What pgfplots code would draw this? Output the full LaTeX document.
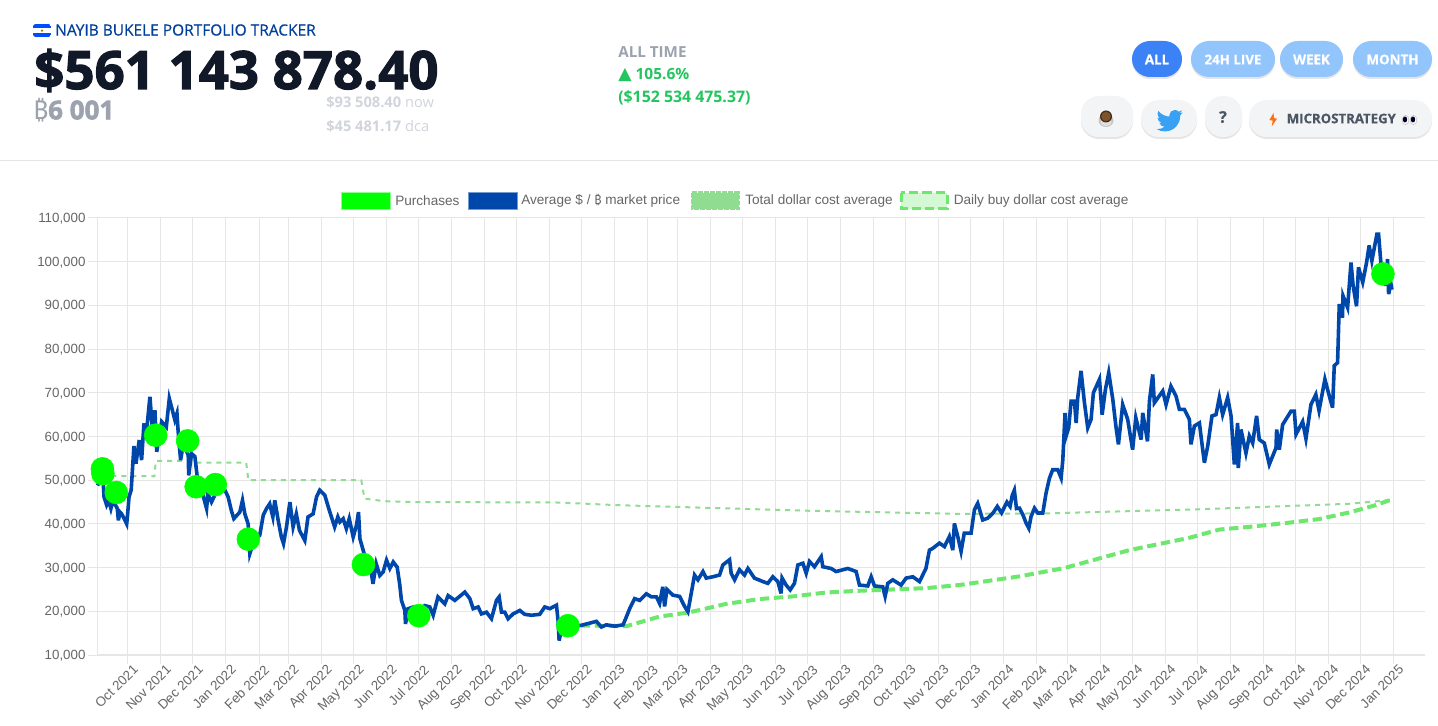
\documentclass[border=0pt]{standalone}
\usepackage{pgfplots}
\usepackage{pgfplotstable}
\usepackage{fontspec}
\pgfplotsset{compat=1.18}
\usetikzlibrary{shadows}
\setmainfont{Liberation Sans}
\newfontfamily\hdr{Open Sans}
\newfontfamily\hdrmed[FakeBold=0.5]{Open Sans}
\newfontfamily\hdrsemi[FakeBold=0.6]{Open Sans Bold}
\newfontfamily\hdrfat[FakeBold=2.2]{Open Sans Bold}
\newfontfamily\btcf{Noto Sans}
\newfontfamily\djv{DejaVu Sans}
\definecolor{cblue}{HTML}{0047AB}
\definecolor{tdca}{HTML}{90DC90}
\definecolor{ddca}{HTML}{6EE76E}
\definecolor{gridc}{HTML}{E6E6E6}
\pgfplotstableread{
d v
-28.6 48800
-27 49500
-26 50500
-25 52000
-24 52500
-23 48500
-22.5 46200
-20 44300
-18 45300
-16 43500
-14 45400
-10 43500
-9 40800
-7.5 42700
-6 42300
-4.4 41600
-1.2 40000
-0.3 42300
1 46200
3 47700
5.6 57800
7.5 53800
10.6 59200
12.8 54600
15 63000
17 60000
20.6 69100
23 61500
25.3 66000
27 56500
31.6 63400
36 62200
38.8 68700
42 65700
44 63800
46 65300
47 61500
49.4 54600
52 58400
56.6 55700
57 51100
59.7 56100
62.8 55400
65 50800
67.5 49200
73.8 43500
75 46900
78.4 45000
83 47300
89.4 48500
94 46200
97 43100
99.4 41200
105 42700
107.5 45400
109.7 42300
112.8 40000
114.4 33200
118 36000
123.7 37400
127 42000
130 43500
133 44600
136 41600
137.8 45400
141 40800
144 37000
146 35500
148.8 39300
152 45000
155 39300
158 42300
161 38500
166 36200
169 41600
173.8 42300
177 46200
180 47700
184.7 46600
189 43100
194 39300
197 41600
198.9 40450
202 41200
205 38900
207.7 41200
211.4 37000
214.5 39700
216.4 42700
217.7 36600
220.8 33950
224 31000
228 29500
230 26300
233 30900
236.4 28200
239.5 29000
242.7 31700
245.8 29800
249 31300
252.7 30100
255 26300
256.7 22500
259.9 20200
260.5 17100
263 20600
268 21000
273 19500
278.6 21300
283.3 21000
286.5 19100
291 23300
297.4 21700
300.5 23600
306.8 22500
316.2 24400
320.9 22900
324 20600
328.7 21000
331.8 19400
336.5 19800
341.2 18300
345.9 22500
348.4 23300
350.6 19800
353.7 19800
356.8 18300
361.5 19400
367.8 20200
372.4 19300
378.7 19100
386.5 19300
391.2 21000
395.9 20600
402.2 21400
403.7 17900
404.7 13300
408 17000
415 16500
425.6 16800
431.9 17200
439.7 17700
444.4 16400
449 16900
457 16600
464.7 16900
467.8 18700
470.9 20600
475.6 22900
480.3 22500
486.6 24000
491.3 23300
496 23300
499 21800
502 25600
503.7 21100
505.9 25000
511.5 23700
517.8 23400
522.5 21100
525.6 19900
528.7 24100
531.8 28300
535 27200
539.7 29100
542.8 27600
549 27900
555.3 28300
558.4 30600
564.7 31800
566.2 28700
569.4 27200
574 29500
578.7 28300
581.9 29800
588 27600
596 26800
600.6 26400
605.3 27900
610 26800
613 24100
614 27600
617.8 26000
621.6 24900
625.6 26400
628.8 30600
633.5 31000
636.6 28700
639.7 31400
644.4 30200
650.7 32500
652.2 30200
660 29800
664.7 29100
671 29500
675.7 29800
683.5 29100
686.6 26000
694.4 25800
697.6 27900
700.7 25800
708.5 25600
710.7 23400
713.2 26400
717.9 27200
725.7 26000
730.4 27600
736.7 27900
743 26800
749 29800
752.3 34000
755.4 34400
761.7 35600
766.4 34800
771 37100
774.2 34000
775.7 40100
778.9 37100
782 33700
785 37900
791.4 37900
794.5 43200
797.6 44700
802.3 40900
807 41300
812 42500
816 44000
820 42500
825 45000
828 44000
830 46500
832 47700
834 43500
836.8 43600
840 42100
843 40200
845.6 39000
847.7 41700
850.9 43600
854 42500
858.7 42500
861.8 47100
865 50500
868 52400
872.8 52400
875.9 50500
877.5 54700
879.6 65400
880.6 60100
883 62000
885.3 68100
888.4 68100
890 63100
891.5 68900
894.6 75000
897.8 67700
900.9 62000
904 63900
906.2 70000
911.9 73100
914.4 65000
917.5 70800
920.6 74600
924.4 68500
927.5 62000
929.7 58200
933.7 67300
938.4 63900
943 57000
946 64300
951 59300
952.5 65400
957 58900
958.8 68100
961.9 74200
963.4 67700
971.3 70400
974.4 67300
979 71500
983.8 69200
986.9 66200
991.6 66200
996.3 63900
997.8 58200
1001 62400
1005.7 63100
1008.8 57000
1010.4 54000
1013.5 57800
1017.5 64700
1021.3 65000
1024.4 68900
1027.5 65000
1032.2 68900
1035.4 64700
1038.5 53600
1041.6 63100
1042.2 52800
1044.7 61600
1049.4 56200
1052.6 60100
1055.7 58500
1059.4 64700
1061.9 59300
1066.6 58500
1071.3 53600
1077.6 57400
1078.2 61600
1080.7 57000
1083.8 62700
1091.7 65800
1094.8 65800
1096.4 60500
1102.6 63400
1105.7 59500
1110.4 67300
1115 69600
1118 65900
1123.5 73100
1127.6 69300
1130.7 66600
1132.3 76200
1135.4 76900
1137 90300
1140 87200
1140.5 92200
1144.8 89500
1148 99800
1150 94500
1153.2 89800
1155 98700
1159 95300
1162.6 99800
1165 103700
1167.6 100200
1172.3 106300
1173.9 106300
1176 99800
1180.8 94500
1182.3 100600
1183.3 92600
1185.5 94900
1186.4 93600
}\btc
\pgfplotstableread{
d v
-24 52600
-23.5 51500
-11 47200
26 60300
56 59000
64 48500
82 49000
113 36500
221 30700
273 19000
413 16700
1178 97200
}\buys
\pgfplotstableread{
d v
-25 51000
25 50900
26 54400
60 54400
62 54000
111 54000
113 50000
219 50000
222 45800
240 45200
271 45000
402 44900
427 44650
458 44300
499 44000
640 43000
780 42300
860 42400
1000 43300
1146 44600
1186.4 45500
}\tdca
\pgfplotstableread{
d v
412 16700
440 16700
468 16600
499 18800
525.6 19700
539.7 20460
561.5 21700
592.8 22800
624 23400
655.3 24300
686.6 24700
718 25000
749 25300
780 26000
808.6 27000
837 28000
879 29900
940 34000
996 36800
1024.4 38700
1055.7 39400
1087 40200
1118 41100
1146 42600
1170 44200
1186.4 45600
}\ddca
\begin{document}
\begin{tikzpicture}
\path[use as bounding box,fill=white] (0,0) rectangle (1078.5pt,543.75pt);
\begin{axis}[
  at={(73.125pt,52.5pt)},anchor=south west,
  scale only axis,width=995.25pt,height=327.75pt,
  xmin=-28.6,xmax=1217,ymin=10000,ymax=110000,
  axis x line*=bottom,axis y line*=left,
  axis line style={gridc,line width=.9pt,-},
  clip=false,
  grid=major,grid style={gridc,line width=.75pt},
  tick align=outside,major tick length=7pt,
  tick style={gridc,line width=.75pt},
  ytick={10000,20000,30000,40000,50000,60000,70000,80000,90000,100000,110000},
  yticklabels={{10,000},{20,000},{30,000},{40,000},{50,000},{60,000},{70,000},{80,000},{90,000},{100,000},{110,000}},
  xtick={0,31,61,92,123,151,182,212,243,273,304,335,365,396,426,457,488,516,547,577,608,638,669,700,730,761,791,822,853,882,913,943,974,1004,1035,1066,1096,1127,1157,1188},
  xticklabels={Oct 2021,Nov 2021,Dec 2021,Jan 2022,Feb 2022,Mar 2022,Apr 2022,May 2022,Jun 2022,Jul 2022,Aug 2022,Sep 2022,Oct 2022,Nov 2022,Dec 2022,Jan 2023,Feb 2023,Mar 2023,Apr 2023,May 2023,Jun 2023,Jul 2023,Aug 2023,Sep 2023,Oct 2023,Nov 2023,Dec 2023,Jan 2024,Feb 2024,Mar 2024,Apr 2024,May 2024,Jun 2024,Jul 2024,Aug 2024,Sep 2024,Oct 2024,Nov 2024,Dec 2024,Jan 2025},
  scaled y ticks=false,scaled x ticks=false,
  yticklabel style={font=\fontsize{10pt}{12pt}\selectfont,text=black!60,xshift=1.5pt,yshift=-.6pt},
  xticklabel style={rotate=45,anchor=north east,font=\fontsize{10pt}{12pt}\selectfont,text=black!60,xshift=6pt,yshift=1.5pt},
]
\addplot[tdca,line width=1.5pt,dash pattern=on 3.75pt off 3.75pt,line join=round] table[x=d,y=v]{\tdca};
\addplot[ddca,line width=3pt,dash pattern=on 7pt off 3.5pt] table[x=d,y=v]{\ddca};
\addplot[cblue,line width=2.7pt,line join=miter,miter limit=6] table[x=d,y=v]{\btc};
\addplot[green,only marks,mark=*,mark size=8.6pt,mark options={draw=green,fill=green}] table[x=d,y=v]{\buys};
\end{axis}
\begin{scope}[shift={(0,543.75pt)},x=.75pt,y=-.75pt]
\draw[gridc,line width=.75pt] (0,160.5) -- (1438,160.5);
% legend
\tikzset{lg/.style={anchor=west,inner sep=0,text=black!60,font=\fontsize{10.2pt}{12pt}\selectfont}}
\fill[green] (341,192.5) rectangle (390,209.5);
\draw[green!45,line width=.75pt] (341,192.5) rectangle (390,209.5);
\node[lg] at (395,200.5) {Purchases};
\fill[cblue] (468,192.5) rectangle (517,209.5);
\draw[cblue!55,line width=.75pt] (468,192.5) rectangle (517,209.5);
\node[lg] at (521,200.5) {Average \$ / {\btcf\fontsize{9.4pt}{12pt}\selectfont ₿} market price};
\fill[tdca] (692,193) rectangle (738.5,209);
\draw[tdca,line width=2.25pt,dash pattern=on 3.5pt off 1pt] (692,193) rectangle (738.5,209);
\node[lg] at (745,200.5) {Total dollar cost average};
\fill[ddca!30] (901,193) rectangle (947,209);
\draw[ddca,line width=2.25pt,dash pattern=on 7pt off 3pt] (901,193) rectangle (947,209);
\node[lg] at (953.5,200.5) {Daily buy dollar cost average};
% header
\begin{scope}
\clip[rounded corners=2pt] (33,24) rectangle (51,37);
\fill[blue!70!cyan] (33,24) rectangle (51,28.5);
\fill[white] (33,28.5) rectangle (51,33);
\fill[blue!70!cyan] (33,33) rectangle (51,37);
\fill[olive] (42,30.7) circle (1.3);
\end{scope}
\node[anchor=west,inner sep=0,text=cblue!90!black,font=\hdrmed\fontsize{11.6pt}{13pt}\selectfont] at (55,30) {NAYIB BUKELE PORTFOLIO TRACKER};
\node[anchor=west,inner sep=0,text={rgb,255:red,17;green,24;blue,39},font=\hdrfat\fontsize{39.6pt}{42pt}\selectfont] at (34,70.5) {\$561 143 878.40};
\node[anchor=west,inner sep=0,text={rgb,255:red,156;green,163;blue,175},font=\hdrfat\fontsize{19.5pt}{22pt}\selectfont] at (33,110) {{\btcf\bfseries ₿}6 001};
\node[anchor=west,inner sep=0,text={rgb,255:red,209;green,213;blue,219},font=\hdr\fontsize{11pt}{13pt}\selectfont] at (326,102) {{\bfseries \$93 508.40} now};
\node[anchor=west,inner sep=0,text={rgb,255:red,209;green,213;blue,219},font=\hdr\fontsize{11pt}{13pt}\selectfont] at (326,126) {{\bfseries \$45 481.17} dca};
\node[anchor=west,inner sep=0,text={rgb,255:red,156;green,163;blue,175},font=\hdr\bfseries\fontsize{11.4pt}{13pt}\selectfont] at (618,52.5) {ALL TIME};
\node[anchor=west,inner sep=0,text={rgb,255:red,34;green,197;blue,94},font=\hdr\bfseries\fontsize{11.6pt}{13pt}\selectfont] at (618,75) {{\djv\fontsize{13pt}{13pt}\selectfont ▲} 105.6\%};
\node[anchor=west,inner sep=0,text={rgb,255:red,34;green,197;blue,94},font=\hdr\bfseries\fontsize{11.9pt}{13pt}\selectfont] at (618,98) {(\$152 534 475.37)};
% buttons
\tikzset{pill/.style={rounded corners=13.5pt,drop shadow={opacity=.2,shadow xshift=0pt,shadow yshift=-1.5pt}},
 btxt/.style={inner sep=0,text=white,font=\hdrsemi\fontsize{10pt}{12pt}\selectfont},
 gtxt/.style={inner sep=0,text={rgb,255:red,75;green,85;blue,99},font=\hdrsemi\fontsize{9.9pt}{12pt}\selectfont}}
\fill[pill,fill={rgb,255:red,59;green,130;blue,246}] (1132,41) rectangle (1182,77);
\fill[pill,fill={rgb,255:red,147;green,197;blue,253}] (1191,41) rectangle (1275,77);
\fill[pill,fill={rgb,255:red,147;green,197;blue,253}] (1280,41) rectangle (1343,77);
\fill[pill,fill={rgb,255:red,147;green,197;blue,253}] (1353,41) rectangle (1432,77);
\node[btxt] at (1157,59.5) {ALL};
\node[btxt] at (1233,59.5) {24H LIVE};
\node[btxt] at (1311.5,59.5) {WEEK};
\node[btxt] at (1392.5,59.5) {MONTH};
\fill[pill,fill={rgb,255:red,243;green,244;blue,246}] (1081,96) rectangle (1133,137);
\fill[pill,fill={rgb,255:red,243;green,244;blue,246}] (1141,100) rectangle (1197,137);
\fill[pill,fill={rgb,255:red,243;green,244;blue,246}] (1205,96) rectangle (1242,137);
\fill[pill,fill={rgb,255:red,243;green,244;blue,246}] (1249,100) rectangle (1432,137);
% coffee
\fill[black!22] (1106,120.5) ellipse (7.5 and 6.5);
\fill[black!12] (1106,122) ellipse (5.5 and 4);
\fill[black!65!brown] (1106,116.5) circle (6);
\fill[brown!65!black] (1106,116.5) circle (4.8);
% bird
\begin{scope}[shift={(1156.5,107.5)},x=.825pt,y=-.825pt]
\fill[fill={rgb,255:red,56;green,161;blue,243}] (23.95,4.57) .. controls (23.1,4.95) and (22.1,5.2) .. (21.13,5.35) .. controls (22.1,4.76) and (22.9,3.8) .. (23.29,2.62) .. controls (22.34,3.18) and (21.29,3.58) .. (20.17,3.81) .. controls (19.27,2.85) and (18,2.25) .. (16.57,2.25) .. controls (13.85,2.25) and (11.65,4.45) .. (11.65,7.17) .. controls (11.65,7.55) and (11.7,7.93) .. (11.78,8.29) .. controls (7.69,8.09) and (4.07,6.13) .. (1.64,3.16) .. controls (1.22,3.89) and (0.97,4.74) .. (0.97,5.64) .. controls (0.97,7.35) and (1.84,8.85) .. (3.16,9.73) .. controls (2.35,9.7) and (1.6,9.48) .. (0.93,9.12) -- (0.93,9.18) .. controls (0.93,11.56) and (2.63,13.55) .. (4.88,14.0) .. controls (4.17,14.2) and (3.4,14.23) .. (2.67,14.09) .. controls (3.3,16.05) and (5.12,17.46) .. (7.27,17.5) .. controls (5.59,18.82) and (3.47,19.6) .. (1.17,19.6) .. controls (0.78,19.6) and (0.39,19.58) .. (0,19.54) .. controls (2.18,20.93) and (4.77,21.75) .. (7.56,21.75) .. controls (16.61,21.75) and (21.55,14.25) .. (21.55,7.76) .. controls (21.55,7.55) and (21.55,7.34) .. (21.54,7.13) .. controls (22.5,6.44) and (23.34,5.57) .. (23.95,4.57) -- cycle;
\end{scope}
\node[gtxt,font=\hdrsemi\fontsize{12pt}{13pt}\selectfont] at (1223,117) {?};
\fill[fill={rgb,255:red,249;green,115;blue,22}] (1273.5,113) -- (1269.3,120) -- (1272.7,120.7) -- (1271.7,126.5) -- (1277,118.7) -- (1274,118) -- cycle;
\node[gtxt,anchor=west] at (1286.5,118.5) {MICROSTRATEGY};
\fill[white,draw=black!25,line width=.4pt] (1405.5,120) ellipse (3.4 and 4.6);
\fill[white,draw=black!25,line width=.4pt] (1413.5,120) ellipse (3.4 and 4.6);
\fill[black!85!blue] (1405,119.5) ellipse (2.2 and 3);
\fill[black!85!blue] (1413,119.5) ellipse (2.2 and 3);
\end{scope}
\end{tikzpicture}
\end{document}
